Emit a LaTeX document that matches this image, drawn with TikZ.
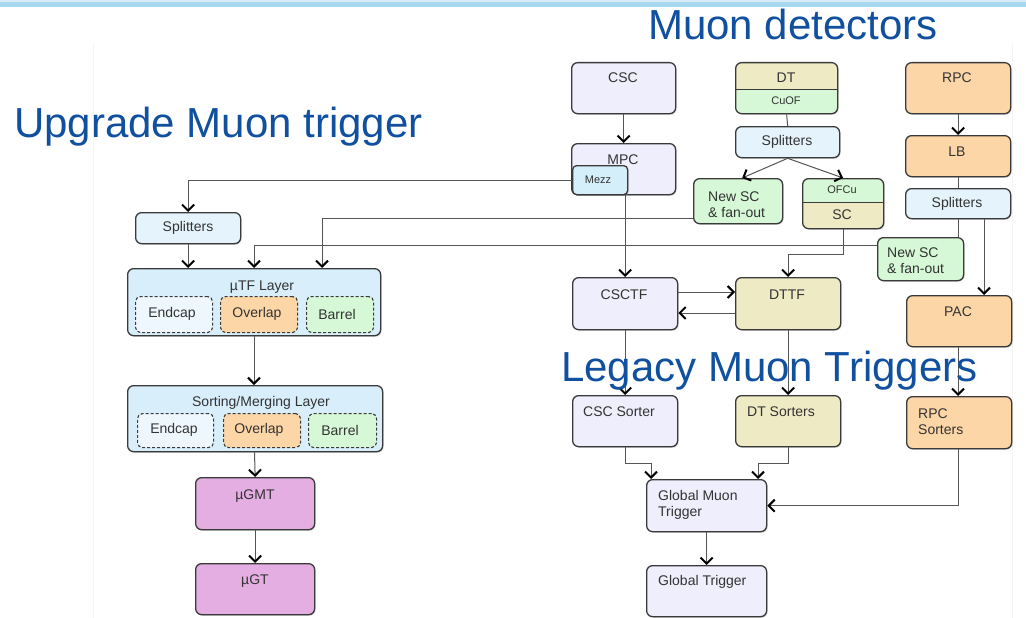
\documentclass[tikz,border=0pt]{standalone}
\usepackage{fontspec}
\setmainfont{Liberation Sans}
\usetikzlibrary{arrows.meta,shadows,calc}
\definecolor{bord}{HTML}{3A3A3A}
\definecolor{lav}{HTML}{EEEEFC}
\definecolor{khaki}{HTML}{EEEAC4}
\definecolor{orng}{HTML}{FDD6A8}
\definecolor{grn}{HTML}{D6F8D6}
\definecolor{spl}{HTML}{E5F4FC}
\definecolor{mezzc}{HTML}{D5EFFA}
\definecolor{layer}{HTML}{D8EEFB}
\definecolor{endc}{HTML}{EEF7FD}
\definecolor{mag}{HTML}{E4AEE2}
\definecolor{txtc}{HTML}{333333}
\definecolor{ttl}{RGB}{16,80,158}
\definecolor{band}{HTML}{A8D8EF}
\definecolor{wirec}{HTML}{555555}
\newcommand\mybox[6]{%
  \pgfmathsetmacro\bw{#5-#3}\pgfmathsetmacro\bh{#6-#4}%
  \node[#2, anchor=north west, minimum width=\bw pt, minimum height=\bh pt] (#1) at (#3,#4) {};}
\tikzset{
  box/.style={draw=bord, line width=1.3pt, rounded corners=6pt, inner sep=0pt,
    drop shadow={shadow xshift=1pt, shadow yshift=-1.2pt, opacity=0.3}},
  dbox/.style={draw=bord, line width=1.1pt, dash pattern=on 3pt off 2pt, rounded corners=5pt, inner sep=0pt},
  txt/.style={font=\fontsize{14}{16}\selectfont, text=txtc, inner sep=0pt, align=left},
  stxt/.style={font=\fontsize{11}{13}\selectfont, text=txtc, inner sep=0pt},
  ttlt/.style={font=\fontsize{42}{48}\selectfont, text=ttl, inner sep=0pt, anchor=base west},
  wire/.style={draw=wirec, line width=1pt},
  arr/.style={wire, -{Straight Barb[length=6pt, width=12pt, line width=2pt, color=black]}},
  lowfill/.style={path picture={
    \fill[grn] ([yshift=24pt]path picture bounding box.south west) rectangle (path picture bounding box.south east);
    \draw[bord, line width=1pt] ([yshift=24pt]path picture bounding box.south west) -- ([yshift=24pt]path picture bounding box.south east);}},
  topfill/.style={path picture={
    \fill[grn] (path picture bounding box.north west) rectangle ([yshift=-24pt]path picture bounding box.north east);
    \draw[bord, line width=1pt] ([yshift=-24pt]path picture bounding box.north west) -- ([yshift=-24pt]path picture bounding box.north east);}},
}
\begin{document}
\begin{tikzpicture}[x=1pt,y=-1pt]
\useasboundingbox (0,0) rectangle (1026,618);
\fill[white] (0,0) rectangle (1026,618);
\fill[band!45] (0,0) rectangle (1026,2);
\fill[band] (0,2) rectangle (1026,7);
\draw[black!4, line width=0.8pt] (93,618) -- (93,43);
\draw[black!4, line width=0.8pt] (1012,618) -- (1012,43);

% ---------- left: upgrade ----------
\mybox{splitL}{box, fill=spl}{135}{212}{240}{243}
\mybox{utf}{box, fill=layer}{127}{268}{380}{335}
\mybox{ue}{dbox, fill=endc}{135}{296}{212}{332}
\mybox{uo}{dbox, fill=orng}{220}{296}{297}{332}
\mybox{ub}{dbox, fill=grn}{306}{296}{373}{332}
\mybox{smerge}{box, fill=layer}{127}{385}{382}{451}
\mybox{se}{dbox, fill=endc}{137}{413}{213}{447}
\mybox{so}{dbox, fill=orng}{223}{413}{300}{447}
\mybox{sb}{dbox, fill=grn}{308}{413}{376}{447}
\mybox{ugmt}{box, fill=mag}{195}{477}{314}{529}
\mybox{ugt}{box, fill=mag}{195}{563}{314}{614}

% ---------- right: detectors and legacy ----------
\mybox{csc}{box, fill=lav}{571}{62}{675}{113}
\mybox{mpc}{box, fill=lav}{571}{143}{675}{194}
\mybox{mezz}{box, fill=mezzc, rounded corners=4pt}{572}{165}{627}{194}
\mybox{dt}{box, fill=khaki, lowfill}{735}{62}{837}{113}
\mybox{splitM}{box, fill=spl}{735}{126}{839}{157}
\mybox{newscL}{box, fill=grn}{693}{178}{782}{223}
\mybox{sc}{box, fill=khaki, topfill}{802}{178}{883}{228}
\mybox{rpc}{box, fill=orng}{905}{62}{1010}{113}
\mybox{lb}{box, fill=orng}{905}{135}{1010}{176}
\mybox{splitR}{box, fill=spl}{905}{188}{1010}{218}
\mybox{newscR}{box, fill=grn}{877}{237}{963}{280}
\mybox{pac}{box, fill=orng}{906}{295}{1011}{346}
\mybox{rpcs}{box, fill=orng}{906}{396}{1011}{448}
\mybox{csctf}{box, fill=lav}{572}{277}{677}{329}
\mybox{dttf}{box, fill=khaki}{735}{277}{840}{329}
\mybox{cscs}{box, fill=lav}{572}{395}{677}{446}
\mybox{dts}{box, fill=khaki}{735}{395}{840}{446}
\mybox{gmt}{box, fill=lav}{646}{479}{766}{531}
\mybox{gt}{box, fill=lav}{646}{565}{766}{616}

% ---------- texts in boxes ----------
\node[txt] (tsplitL) at (188,228) {Splitters};
\node[txt] (tutf) at (262,287) {µTF Layer};
\node[txt] (tue) at (172,314) {Endcap};
\node[txt] (tuo) at (257,314) {Overlap};
\node[txt] (tub) at (337,314) {Barrel};
\node[txt] (tsm) at (261,403) {Sorting/Merging Layer};
\node[txt] (tse) at (174,430) {Endcap};
\node[txt] (tso) at (259,430) {Overlap};
\node[txt] (tsb) at (340,430) {Barrel};
\node[txt] (tugmt) at (255,496) {µGMT};
\node[txt] (tugt) at (255,581) {µGT};

\node[txt] (tcsc) at (623,78) {CSC};
\node[txt] (tmpc) at (623,160) {MPC};
\node[stxt] (tmezz) at (598,180) {Mezz};
\node[txt] (tdt) at (786,78) {DT};
\node[stxt] (tcuof) at (786,101) {CuOF};
\node[txt] (tsplitM) at (787,142) {Splitters};
\node[txt, anchor=west] (tnewscL) at (708,205) {New SC\\\& fan-out};
\node[stxt] (tofcu) at (842,190) {OFCu};
\node[txt] (tsc) at (842,215) {SC};
\node[txt] (trpc) at (957,78) {RPC};
\node[txt] (tlb) at (957,152) {LB};
\node[txt] (tsplitR) at (957,204) {Splitters};
\node[txt, anchor=west] (tnewscR) at (887,261) {New SC\\\& fan-out};
\node[txt] (tpac) at (958,312) {PAC};
\node[txt, anchor=west] (trpcs) at (918,422) {RPC\\Sorters};
\node[txt] (tcsctf) at (624,295) {CSCTF};
\node[txt] (tdttf) at (787,295) {DTTF};
\node[txt, anchor=west] (tcscs) at (583,412) {CSC Sorter};
\node[txt, anchor=west] (tdts) at (747,412) {DT Sorters};
\node[txt, anchor=west] (tgmt) at (658,505) {Global Muon\\Trigger};
\node[txt, anchor=west] (tgt) at (658,582) {Global Trigger};

% ---------- connectors ----------
\draw[arr] (csc.south) -- (mpc.north);
\draw[arr] (mezz.west) -| (splitL.north);
\draw[arr] (mezz.south -| csctf.north) -- (csctf.north);
\draw[wire] (dt.south) -- (splitM.north);
\draw[arr] (splitM.south) -- ($(newscL.north)+(4,0)$);
\draw[arr] (splitM.south) -- (sc.north);
\draw[arr] (newscL.west |- 0,218) -| (utf.north -| 322,0);
\draw[arr] (sc.south) -- ++(0,25) -| (dttf.north);
\draw[arr] (rpc.south) -- (lb.north);
\draw[wire] (lb.south) -- (splitR.north);
\draw[wire] (splitR.south) -- (splitR.south |- newscR.north);
\draw[arr] (splitR.south -| 984,0) -- (pac.north -| 984,0);
\draw[arr] (newscR.west |- 0,245) -| (utf.north -| 254,0);
\draw[arr] (splitL.south) -- (splitL.south |- utf.north);
\draw[arr] (utf.south -| 254,0) -- (smerge.north -| 254,0);
\draw[arr] (smerge.south -| 254.5,0) -- (ugmt.north);
\draw[arr] (ugmt.south) -- (ugt.north);
\draw[arr] (csctf.east |- 0,292) -- (dttf.west |- 0,292);
\draw[arr] (dttf.west |- 0,313) -- (csctf.east |- 0,313);
\draw[arr] (csctf.south) -- (cscs.north);
\draw[arr] (dttf.south) -- (dts.north);
\draw[arr] (pac.south -| 958,0) -- (rpcs.north -| 958,0);
\draw[arr] (cscs.south -| 625,0) -- (625,463) -| (gmt.north -| 651,0);
\draw[arr] (dts.south -| 788,0) -- (788,463) -| (gmt.north -| 758,0);
\draw[arr] (rpcs.south -| 958,0) |- (gmt.east);
\draw[arr] (gmt.south) -- (gt.north);

% ---------- titles ----------
\node[ttlt] (tmd) at (648,40) {Muon detectors};
\node[ttlt] (tum) at (14,137) {Upgrade Muon trigger};
\node[ttlt] (tlm) at (561,381) {Legacy Muon Triggers};
\end{tikzpicture}
\end{document}
